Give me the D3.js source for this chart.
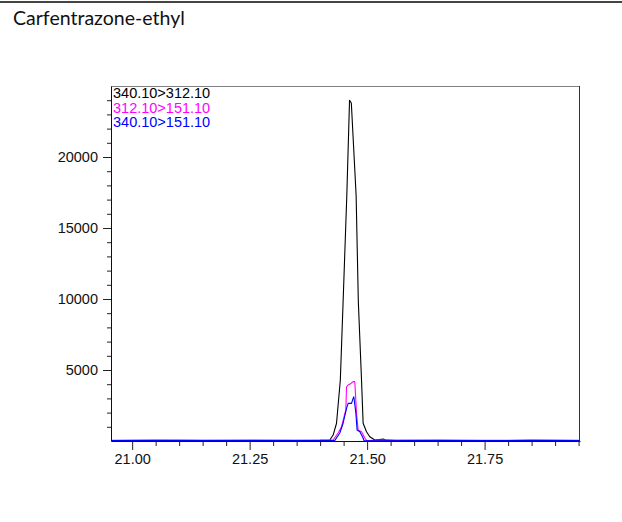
<!DOCTYPE html>
<html>
<head>
<meta charset="utf-8">
<script src="https://cdn.jsdelivr.net/npm/d3@7/dist/d3.min.js"></script>
<style>
  html, body { margin: 0; padding: 0; background: #fff; }
  svg { display: block; }
</style>
</head>
<body>
<svg id="chart" width="622" height="522"></svg>
<script>
// ---------------- data ----------------
const chartTitle = "Carfentrazone-ethyl";
const seriesNames = ["340.10>312.10", "312.10>151.10", "340.10>151.10"];
const seriesColors = ["#000000", "#ff00ff", "#0000ff"];

const xMajorTicks = [21.00, 21.25, 21.50, 21.75];
const xMinorTicks = [21.05, 21.10, 21.15, 21.20, 21.30, 21.35, 21.40, 21.45, 21.55, 21.60, 21.65, 21.70, 21.80, 21.85, 21.90, 21.95];
const yMajorTicks = [5000, 10000, 15000, 20000];
const yMinorTicks = [1000, 2000, 3000, 4000, 6000, 7000, 8000, 9000, 11000, 12000, 13000, 14000, 16000, 17000, 18000, 19000, 21000, 22000, 23000, 24000];

const blackTimes  = [20.955, 21.05, 21.15, 21.25, 21.35, 21.40, 21.4206, 21.4277, 21.4349, 21.4430, 21.4489, 21.4568, 21.4626, 21.4664, 21.4766, 21.4813, 21.4881, 21.4915, 21.4987, 21.5057, 21.5164, 21.527, 21.534, 21.540, 21.56, 21.65, 21.75, 21.85, 21.953];
const blackValues = [40, 50, 30, 45, 40, 50, 70, 420, 1250, 4300, 9800, 17300, 24000, 23800, 17300, 9800, 4300, 1250, 650, 300, 70, 100, 140, 60, 40, 50, 30, 45, 40];

const pinkTimes  = [20.955, 21.10, 21.25, 21.40, 21.4277, 21.4383, 21.4455, 21.4547, 21.4562, 21.4596, 21.4632, 21.4702, 21.4738, 21.4774, 21.4809, 21.4881, 21.4951, 21.4987, 21.55, 21.70, 21.85, 21.953];
const pinkValues = [50, 60, 50, 60, 70, 560, 1000, 2200, 3800, 3950, 4000, 4180, 4180, 1970, 770, 650, 210, 40, 60, 50, 60, 50];

const blueTimes  = [20.955, 21.20, 21.40, 21.4313, 21.4419, 21.4489, 21.4562, 21.4596, 21.4668, 21.4702, 21.4717, 21.4760, 21.4787, 21.4845, 21.4902, 21.4936, 21.60, 21.80, 21.953];
const blueValues = [30, 40, 30, 40, 560, 1250, 2300, 2650, 2650, 3000, 3120, 1970, 770, 650, 300, 20, 30, 40, 30];

// ---------------- layout ----------------
const svg = d3.select("#chart");
const plot = { left: 111, right: 580, top: 86, bottom: 441 };

const x = d3.scaleLinear().domain([20.955, 21.953]).range([plot.left, plot.right]);
const y = d3.scaleLinear().domain([0, 25000]).range([plot.bottom, plot.top]);

// top separator line
svg.append("line")
  .attr("x1", 0).attr("x2", 622).attr("y1", 2).attr("y2", 2)
  .attr("stroke", "#444").attr("stroke-width", 2);

// title (fit to measured width)
const titleEl = svg.append("text")
  .attr("x", 13).attr("y", 25)
  .attr("font-family", "Lato, 'Open Sans', sans-serif")
  .attr("font-size", 16)
  .attr("fill", "#111")
  .text(chartTitle);
const tw = titleEl.node().getComputedTextLength();
titleEl.attr("font-size", 16 * 172 / tw);

// frame: top and right borders
svg.append("line").attr("x1", plot.left).attr("x2", plot.right)
  .attr("y1", plot.top + 0.5).attr("y2", plot.top + 0.5)
  .attr("stroke", "#808080").attr("stroke-width", 1);
svg.append("line").attr("x1", plot.right - 0.5).attr("x2", plot.right - 0.5)
  .attr("y1", plot.top).attr("y2", plot.bottom)
  .attr("stroke", "#333").attr("stroke-width", 1);

// clip
svg.append("clipPath").attr("id", "clip").append("rect")
  .attr("x", plot.left).attr("y", plot.top - 20)
  .attr("width", plot.right - plot.left).attr("height", plot.bottom - plot.top + 22);

// series
const line = d3.line().x(d => x(d[0])).y(d => y(d[1]));
const series = [
  d3.zip(blackTimes, blackValues),
  d3.zip(pinkTimes, pinkValues),
  d3.zip(blueTimes, blueValues)
];
const g = svg.append("g").attr("clip-path", "url(#clip)");
series.forEach((s, i) => {
  g.append("path").datum(s)
    .attr("d", line)
    .attr("fill", "none")
    .attr("stroke", seriesColors[i])
    .attr("stroke-width", 1.1)
    .attr("stroke-linejoin", "round");
});

// x axis
const xAxisG = svg.append("g").attr("transform", `translate(0,${plot.bottom})`)
  .call(d3.axisBottom(x).tickValues(xMajorTicks).tickFormat(d3.format(".2f")).tickSize(9).tickPadding(4).tickSizeOuter(0));
const xMinorG = svg.append("g").attr("transform", `translate(0,${plot.bottom})`)
  .call(d3.axisBottom(x).tickValues(xMinorTicks).tickFormat("").tickSize(5).tickSizeOuter(0));
xMinorG.select(".domain").remove();

// y axis
const yAxisG = svg.append("g").attr("transform", `translate(${plot.left},0)`)
  .call(d3.axisLeft(y).tickValues(yMajorTicks).tickFormat(d3.format("d")).tickSize(8).tickPadding(5).tickSizeOuter(0));
const yMinorG = svg.append("g").attr("transform", `translate(${plot.left},0)`)
  .call(d3.axisLeft(y).tickValues(yMinorTicks).tickFormat("").tickSize(4).tickSizeOuter(0));
yMinorG.select(".domain").remove();

[xAxisG, yAxisG].forEach(a => {
  a.selectAll("text")
    .attr("font-family", "'Liberation Sans', Arial, sans-serif")
    .attr("font-size", 14.5)
    .attr("fill", "#111");
});
svg.selectAll(".tick line").attr("stroke", "#222");
svg.selectAll(".domain").attr("stroke", "#111");

// legend
const legend = svg.append("g");
seriesNames.forEach((n, i) => {
  legend.append("text")
    .attr("x", 113).attr("y", 98 + i * 14.6)
    .attr("font-family", "'Liberation Sans', Arial, sans-serif")
    .attr("font-size", 14.5)
    .attr("fill", seriesColors[i])
    .text(n);
});
</script>
</body>
</html>
